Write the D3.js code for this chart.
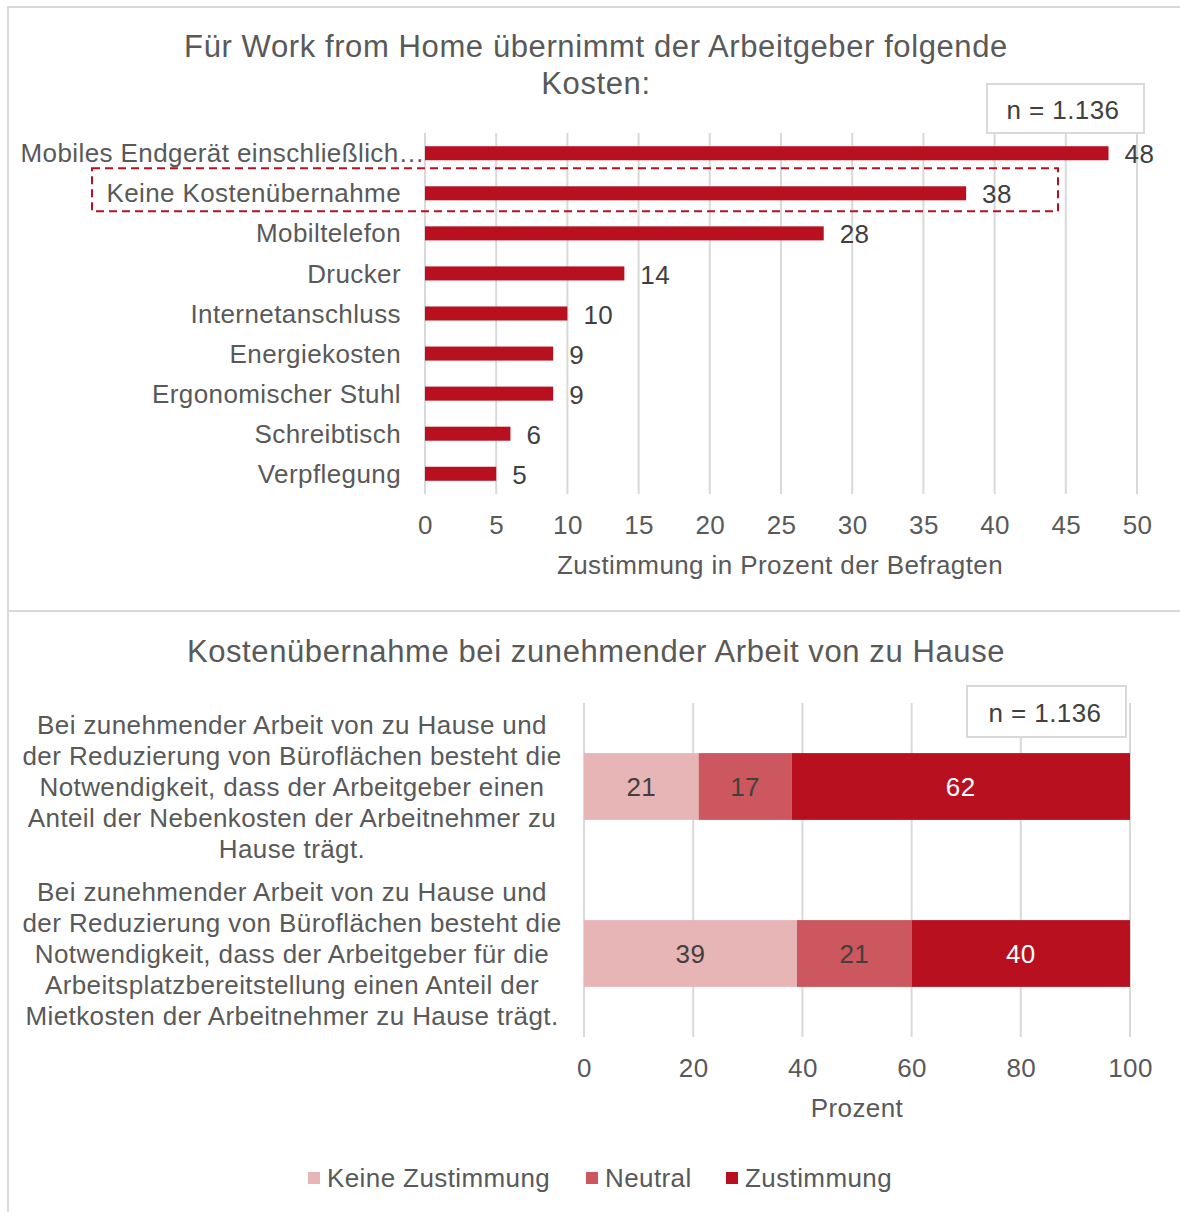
<!DOCTYPE html>
<html>
<head>
<meta charset="utf-8">
<script src="https://cdn.jsdelivr.net/npm/d3@7"></script>
<style>
  body { margin: 0; background: #fff; }
  svg { font-family: "Liberation Sans", Arial, sans-serif; }
  svg text { letter-spacing: 0.4px; }
  svg text.title { letter-spacing: 0.6px; }
</style>
</head>
<body>
<svg id="chart" width="1180" height="1212"></svg>
<script>
// top chart data
const costCategories = ['Mobiles Endgerät einschließlich…', 'Keine Kostenübernahme', 'Mobiltelefon', 'Drucker',
  'Internetanschluss', 'Energiekosten', 'Ergonomischer Stuhl', 'Schreibtisch', 'Verpflegung'];
const costValues = [48, 38, 28, 14, 10, 9, 9, 6, 5];
const costTicks = [0, 5, 10, 15, 20, 25, 30, 35, 40, 45, 50];

// bottom chart data
const statements = [
  ['Bei zunehmender Arbeit von zu Hause und', 'der Reduzierung von Büroflächen besteht die',
   'Notwendigkeit, dass der Arbeitgeber einen', 'Anteil der Nebenkosten der Arbeitnehmer zu', 'Hause trägt.'],
  ['Bei zunehmender Arbeit von zu Hause und', 'der Reduzierung von Büroflächen besteht die',
   'Notwendigkeit, dass der Arbeitgeber für die', 'Arbeitsplatzbereitstellung einen Anteil der',
   'Mietkosten der Arbeitnehmer zu Hause trägt.']
];
const seriesNames = ['Keine Zustimmung', 'Neutral', 'Zustimmung'];
const keineZustimmung = [21, 39];
const neutral = [17, 21];
const zustimmung = [62, 40];
const pctTicks = [0, 20, 40, 60, 80, 100];

const red = '#b8101f';
const colors = ['#e8b5b7', '#cd575e', red];
const grid = '#d9d9d9';
const textCol = '#595959';
const darkText = '#404040';
const fs = 26;

const svg = d3.select('#chart');

// frame
svg.append('rect').attr('x', 8).attr('y', 7).attr('width', 1190).attr('height', 1230)
  .attr('fill', 'none').attr('stroke', grid).attr('stroke-width', 2);
svg.append('line').attr('x1', 8).attr('x2', 1180).attr('y1', 611).attr('y2', 611)
  .attr('stroke', grid).attr('stroke-width', 2);

// ---------- top chart ----------
const topG = svg.append('g');
topG.append('text').attr('class', 'title').attr('x', 596).attr('y', 57).attr('text-anchor', 'middle')
  .attr('font-size', 31).attr('fill', textCol).text('Für Work from Home übernimmt der Arbeitgeber folgende');
topG.append('text').attr('class', 'title').attr('x', 596).attr('y', 94).attr('text-anchor', 'middle')
  .attr('font-size', 31).attr('fill', textCol).text('Kosten:');

const x1 = d3.scaleLinear().domain([0, 50]).range([425, 1137]);
const y1 = d3.scaleBand().domain(costCategories).range([133, 494]).paddingInner(0.65).paddingOuter(0.33);

topG.append('g').selectAll('line').data(costTicks).join('line')
  .attr('x1', d => x1(d)).attr('x2', d => x1(d)).attr('y1', 133).attr('y2', 494)
  .attr('stroke', grid).attr('stroke-width', 2);

const xAxis1 = topG.append('g').attr('transform', 'translate(0,494)')
  .call(d3.axisBottom(x1).tickValues(costTicks).tickSize(0).tickPadding(22));
xAxis1.select('.domain').remove();
xAxis1.attr('font-family', null).attr('font-size', null);
xAxis1.selectAll('text').attr('font-size', fs).attr('fill', textCol);

topG.append('text').attr('x', 780).attr('y', 574).attr('text-anchor', 'middle')
  .attr('font-size', fs).attr('fill', textCol).text('Zustimmung  in Prozent der Befragten');

topG.append('g').selectAll('rect').data(costValues).join('rect')
  .attr('x', x1(0)).attr('y', (d, i) => y1(costCategories[i]))
  .attr('width', d => x1(d) - x1(0)).attr('height', y1.bandwidth()).attr('fill', red);

topG.append('g').selectAll('text').data(costValues).join('text')
  .attr('x', d => x1(d) + 16).attr('y', (d, i) => y1(costCategories[i]) + y1.bandwidth() / 2 + 1)
  .attr('dy', '0.35em').attr('font-size', fs).attr('fill', darkText).text(d => d);

topG.append('g').selectAll('text').data(costCategories).join('text')
  .attr('x', (d, i) => i === 0 ? 425 : 401).attr('y', d => y1(d) + y1.bandwidth() / 2)
  .attr('dy', '0.35em').attr('text-anchor', 'end').attr('font-size', fs).attr('fill', textCol)
  .text(d => d);

// highlight box
const hb = y1('Keine Kostenübernahme');
topG.append('rect').attr('x', 92).attr('y', hb - 18).attr('width', 966).attr('height', y1.bandwidth() + 29)
  .attr('fill', 'none').attr('stroke', red).attr('stroke-width', 2).attr('stroke-dasharray', '8,5');

// n box
topG.append('rect').attr('x', 987).attr('y', 84).attr('width', 157).attr('height', 49)
  .attr('fill', '#fff').attr('stroke', grid).attr('stroke-width', 2);
topG.append('text').attr('x', 1063).attr('y', 110).attr('dy', '0.35em').attr('text-anchor', 'middle')
  .attr('font-size', fs).attr('fill', darkText).text('n = 1.136');

// ---------- bottom chart ----------
const botG = svg.append('g');
botG.append('text').attr('class', 'title').attr('x', 596).attr('y', 662).attr('text-anchor', 'middle')
  .attr('font-size', 31).attr('fill', textCol).text('Kostenübernahme bei zunehmender Arbeit von zu Hause');

const x2 = d3.scaleLinear().domain([0, 100]).range([584, 1130]);
const y2 = d3.scaleBand().domain([0, 1]).range([703, 1037]).paddingInner(0.6).paddingOuter(0.3);

botG.append('g').selectAll('line').data(pctTicks).join('line')
  .attr('x1', d => x2(d)).attr('x2', d => x2(d)).attr('y1', 703).attr('y2', 1037)
  .attr('stroke', grid).attr('stroke-width', 2);

const xAxis2 = botG.append('g').attr('transform', 'translate(0,1037)')
  .call(d3.axisBottom(x2).tickValues(pctTicks).tickSize(0).tickPadding(22));
xAxis2.select('.domain').remove();
xAxis2.attr('font-family', null).attr('font-size', null);
xAxis2.selectAll('text').attr('font-size', fs).attr('fill', textCol);

botG.append('text').attr('x', 857).attr('y', 1117).attr('text-anchor', 'middle')
  .attr('font-size', fs).attr('fill', textCol).text('Prozent');

const rows = statements.map((s, i) => [keineZustimmung[i], neutral[i], zustimmung[i]]);
const stacked = d3.stack().keys([0, 1, 2])(rows);

stacked.forEach((layer, k) => {
  const g = botG.append('g');
  g.selectAll('rect').data(layer).join('rect')
    .attr('x', d => x2(d[0])).attr('y', (d, i) => y2(i))
    .attr('width', d => x2(d[1]) - x2(d[0])).attr('height', y2.bandwidth())
    .attr('fill', colors[k]);
  g.selectAll('text').data(layer).join('text')
    .attr('x', d => (x2(d[0]) + x2(d[1])) / 2).attr('y', (d, i) => y2(i) + y2.bandwidth() / 2)
    .attr('dy', '0.35em').attr('text-anchor', 'middle').attr('font-size', fs)
    .attr('fill', k === 2 ? '#fff' : darkText).text(d => d[1] - d[0]);
});

statements.forEach((lines, i) => {
  const cy = y2(i) + y2.bandwidth() / 2;
  botG.append('text').attr('text-anchor', 'middle').attr('font-size', fs).attr('fill', textCol)
    .selectAll('tspan').data(lines).join('tspan')
    .attr('x', 292).attr('y', (d, j) => cy + (j - 2) * 31).attr('dy', '0.35em').text(d => d);
});

// n box
botG.append('rect').attr('x', 967).attr('y', 686).attr('width', 159).attr('height', 51)
  .attr('fill', '#fff').attr('stroke', grid).attr('stroke-width', 2);
botG.append('text').attr('x', 1045).attr('y', 713).attr('dy', '0.35em').attr('text-anchor', 'middle')
  .attr('font-size', fs).attr('fill', darkText).text('n = 1.136');

// legend
const legendX = [308, 586, 726];
const legend = botG.append('g').selectAll('g').data(seriesNames).join('g')
  .attr('transform', (d, i) => `translate(${legendX[i]},1178)`);
legend.append('rect').attr('x', 0).attr('y', -6).attr('width', 12).attr('height', 12)
  .attr('fill', (d, i) => colors[i]);
legend.append('text').attr('x', 19).attr('dy', '0.35em').attr('font-size', fs).attr('fill', textCol)
  .text(d => d);
</script>
</body>
</html>
